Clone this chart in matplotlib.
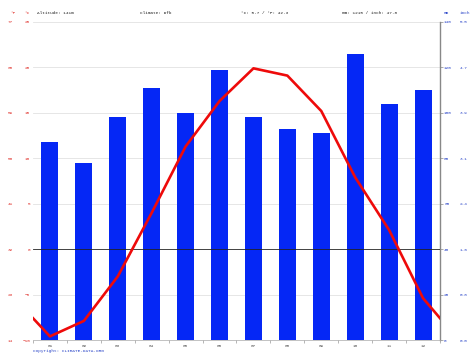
import matplotlib
matplotlib.use("Agg")
import matplotlib.pyplot as plt

# data
months = ["01", "02", "03", "04", "05", "06", "07", "08", "09", "10", "11", "12"]
precip_mm = [87, 78, 98, 111, 100, 119, 98, 93, 91, 126, 104, 110]
temp_c = [-9.6, -7.9, -3.0, 4.0, 11.3, 16.3, 19.9, 19.1, 15.2, 7.9, 2.1, -5.4]
temp_edge = -7.6  # line value where it meets the left/right edge

c_ticks = [-10, -5, 0, 5, 10, 15, 20, 25]
f_labels = ["14", "23", "32", "41", "50", "59", "68", "77"]
mm_ticks = [0, 20, 40, 60, 80, 100, 120, 140]
inch_labels = ["0.0", "0.8", "1.6", "2.4", "3.1", "3.9", "4.7", "5.5"]

header = ["Altitude: 141m", "Climate: Dfb", "°C: 5.7 / °F: 42.3", "mm: 1215 / inch: 47.8"]
header_x = [37, 140, 241, 342]

FONT = "Liberation Mono"
FS = 3.2
RED = "#e0302a"
BLUE = "#2a45c8"

fig = plt.figure(figsize=(4.74, 3.55), dpi=100)
W, H = 474, 355
ax = fig.add_axes([33 / W, 15 / H, 407 / W, 318 / H])

# precipitation bars (right scale)
x = list(range(1, 13))
ax.bar(x, precip_mm, width=0.5, color="#0527f5", zorder=2)
ax.set_xlim(0.5, 12.5)
ax.set_ylim(0, 140)

ax.set_xticks(x)
ax.set_xticklabels(months, fontsize=FS, fontfamily=FONT, color="#555555")
ax.set_xticks([i + 0.5 for i in range(0, 13)], minor=True)
ax.tick_params(axis="x", which="major", length=0, pad=3)
ax.tick_params(axis="x", which="minor", length=2, width=0.5, color="#999999")

for s in ["top", "left"]:
    ax.spines[s].set_visible(False)
ax.spines["right"].set_color("#888888")
ax.spines["right"].set_linewidth(1.0)
ax.spines["bottom"].set_color("#aaaaaa")
ax.spines["bottom"].set_linewidth(0.5)

# temperature axis
axt = ax.twinx()
axt.set_ylim(-10, 25)
axt.set_xlim(0.5, 12.5)
axt.set_yticks(c_ticks)
axt.yaxis.tick_left()
axt.tick_params(axis="y", length=0, pad=2, labelsize=FS, labelcolor=RED)
for lab in axt.get_yticklabels():
    lab.set_fontfamily(FONT)
for s in axt.spines.values():
    s.set_visible(False)

# mm ticks on the right (after twinx, which moves them left)
ax.set_yticks(mm_ticks)
ax.yaxis.tick_right()
ax.tick_params(axis="y", length=2, width=0.5, color="#888888", pad=1,
               labelsize=FS, labelcolor=BLUE)
for lab in ax.get_yticklabels():
    lab.set_fontfamily(FONT)

# inch labels
sec_r = ax.secondary_yaxis(1.0, functions=(lambda v: v, lambda v: v))
sec_r.set_yticks(mm_ticks)
sec_r.set_yticklabels(inch_labels)
sec_r.tick_params(length=0, pad=14.4, labelsize=FS, labelcolor=BLUE)
for lab in sec_r.get_yticklabels():
    lab.set_fontfamily(FONT)
sec_r.spines["right"].set_visible(False)

for t in c_ticks:
    if t == 0:
        continue
    ax.axhline((t + 10) * 4, color="#e2e2e2", lw=0.6, zorder=0)
axt.axhline(0, color="#222222", lw=0.6, zorder=1)

tx = [0.5] + x + [12.5]
ty = [temp_edge] + temp_c + [temp_edge]
axt.plot(tx, ty, color="#ee0a0a", lw=1.9, zorder=3, solid_joinstyle="round")

sec_l = axt.secondary_yaxis(0.0, functions=(lambda v: v, lambda v: v))
sec_l.set_yticks(c_ticks)
sec_l.set_yticklabels(f_labels)
sec_l.tick_params(length=0, pad=14.4, labelsize=FS, labelcolor=RED)
for lab in sec_l.get_yticklabels():
    lab.set_fontfamily(FONT)
sec_l.spines["left"].set_visible(False)

# header row
yh = 1 - 13 / H
fig.text(10 / W, yh, "°F", fontsize=FS, family=FONT, color=RED, va="center")
fig.text(24 / W, yh, "°C", fontsize=FS, family=FONT, color=RED, va="center")
for hx, t in zip(header_x, header):
    fig.text(hx / W, yh, t, fontsize=FS, family=FONT, color="#222222", va="center")
fig.text(444 / W, yh, "mm", fontsize=FS, family=FONT, color=BLUE, va="center")
fig.text(460 / W, yh, "inch", fontsize=FS, family=FONT, color=BLUE, va="center")

fig.text(33 / W, 4 / H, "Copyright: CLIMATE-DATA.ORG", fontsize=FS, family=FONT,
         color=BLUE, va="center")

fig.savefig("out.png", dpi=100)
